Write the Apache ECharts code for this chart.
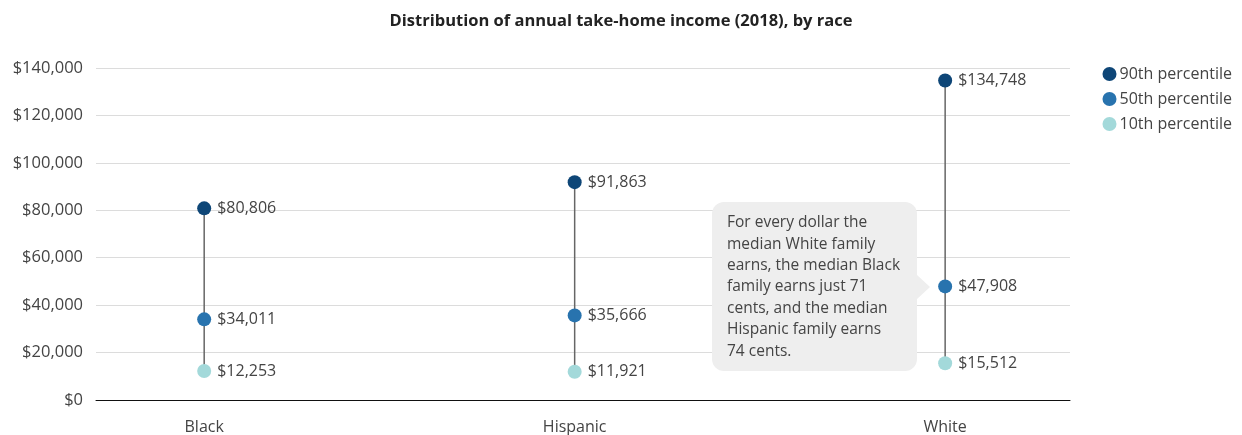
<!DOCTYPE html>
<html>
<head>
<meta charset="utf-8">
<script src="https://cdn.jsdelivr.net/npm/echarts@6/dist/echarts.min.js"></script>
<style>
html, body { margin: 0; padding: 0; background: #fff; }
#chart { width: 1242px; height: 435px; }
</style>
</head>
<body>
<div id="chart"></div>
<script>
//数据
var races = ["Black", "Hispanic", "White"];
var p90 = [80806, 91863, 134748];
var p50 = [34011, 35666, 47908];
var p10 = [12253, 11921, 15512];
var yTicks = [0, 20000, 40000, 60000, 80000, 100000, 120000, 140000];
var note = "For every dollar the\nmedian White family\nearns, the median Black\nfamily earns just 71\ncents, and the median\nHispanic family earns\n74 cents.";

var chart = echarts.init(document.getElementById("chart"));

function money(v) {
    return "$" + v.toLocaleString("en-US");
}

function pts(arr) {
    return arr.map(function(v, i) { return [i, v]; });
}

var font = "'Open Sans', 'Noto Sans', sans-serif";

function dotSeries(name, arr, color) {
    return {
        name: name,
        type: "scatter",
        symbol: "circle",
        symbolSize: 14,
        z: 5,
        itemStyle: { color: color, opacity: 1 },
        label: {
            show: true,
            position: "right",
            distance: 6,
            color: "#444",
            fontSize: 16,
            fontFamily: font,
            formatter: function(p) { return money(p.value[1]); }
        },
        data: pts(arr)
    };
}

var option = {
    animation: false,
    title: {
        text: "Distribution of annual take-home income (2018), by race",
        left: "center",
        top: 8,
        textStyle: { fontSize: 16.5, fontWeight: "bold", color: "#222", fontFamily: font }
    },
    legend: {
        orient: "vertical",
        right: 5,
        top: 61,
        itemGap: 9,
        itemWidth: 14,
        itemHeight: 14,
        icon: "circle",
        textStyle: { fontSize: 16, color: "#444", fontFamily: font, padding: [0, 0, 0, -2] },
        data: ["90th percentile", "50th percentile", "10th percentile"]
    },
    grid: { left: 96, right: 172, top: 68, bottom: 35 },
    xAxis: {
        type: "value",
        min: -0.292,
        max: 2.337,
        splitLine: { show: false },
        axisLine: { show: true, lineStyle: { color: "#111", width: 1 } },
        axisTick: { show: false },
        axisLabel: {
            customValues: [0, 1, 2],
            margin: 19,
            fontSize: 16,
            color: "#444",
            fontFamily: font,
            formatter: function(v) { return races[Math.round(v)]; }
        }
    },
    yAxis: {
        type: "value",
        min: yTicks[0],
        max: yTicks[yTicks.length - 1],
        interval: 20000,
        axisLine: { show: false },
        axisTick: { show: false },
        splitLine: { lineStyle: { color: "#dcdcdc" } },
        axisLabel: {
            margin: 13,
            fontSize: 16.5,
            color: "#444",
            fontFamily: font,
            formatter: function(v) { return money(v); }
        }
    },
    series: [
        {
            type: "custom",
            z: 2,
            silent: true,
            renderItem: function(params, api) {
                var a = api.coord([api.value(0), api.value(1)]);
                var b = api.coord([api.value(0), api.value(2)]);
                return {
                    type: "line",
                    shape: { x1: a[0], y1: a[1], x2: b[0], y2: b[1] },
                    style: { stroke: "#666", lineWidth: 1.5 }
                };
            },
            data: races.map(function(r, i) { return [i, p10[i], p90[i]]; })
        },
        dotSeries("90th percentile", p90, "#0e4677"),
        dotSeries("50th percentile", p50, "#2873ae"),
        dotSeries("10th percentile", p10, "#a3d9da")
    ],
    //注释框
    graphic: [
        {
            type: "rect",
            left: 712,
            top: 202,
            z: 100,
            shape: { x: 0, y: 0, width: 205, height: 169, r: 12 },
            style: { fill: "#eeeeee" }
        },
        {
            type: "polygon",
            z: 100,
            shape: { points: [[916, 274], [930, 287], [916, 300]] },
            style: { fill: "#eeeeee" }
        },
        {
            type: "text",
            left: 727,
            top: 212,
            z: 101,
            style: {
                text: note,
                fontSize: 15.5,
                lineHeight: 21.4,
                fill: "#444",
                fontFamily: font
            }
        }
    ]
};

chart.setOption(option);
</script>
</body>
</html>
